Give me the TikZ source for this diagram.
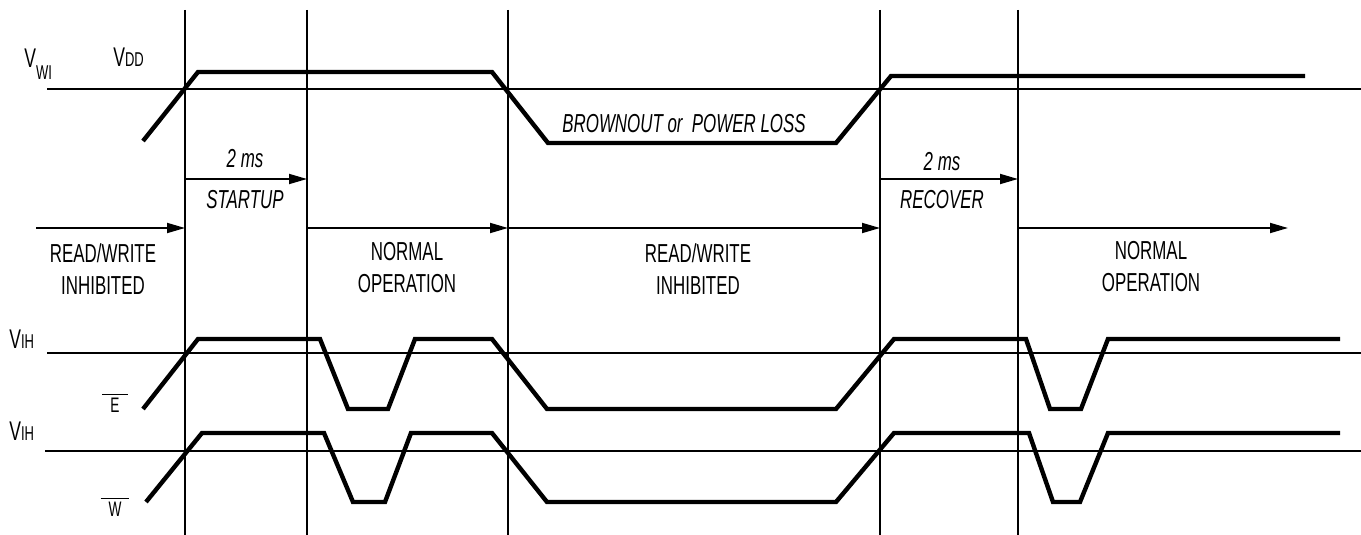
\documentclass[tikz,border=0pt]{standalone}
\usepackage{fontspec}
\setmainfont{Liberation Sans}[FakeStretch=0.65]
\usetikzlibrary{arrows.meta}

\begin{document}
\begin{tikzpicture}[x=0.5pt, y=-0.5pt,
    grid/.style = {line width=0.7pt},
    sig/.style = {line width=2.2pt, line join=miter},
    span/.style = {line width=0.9pt, -{Triangle[length=9pt,width=5pt]}},
    lbl/.style = {font=\fontsize{13}{16}\selectfont, align=center, anchor=north, inner sep=0pt},
    tag/.style = {font=\fontsize{13}{16}\selectfont\itshape, anchor=base, inner sep=0pt},
    lvl/.style = {font=\fontsize{13.5}{16}\selectfont, anchor=base west, inner sep=0pt}]
  \useasboundingbox (0,0) rectangle (1361,535);
  \foreach \n/\x in {a/185, b/307, c/508, d/880, e/1018} {
    \coordinate (top\n) at (\x,10);
    \coordinate (bot\n) at (\x,535);
    \coordinate (row\n) at (\x,228);
    \coordinate (sub\n) at (\x,179);
    \draw[grid] (top\n) -- (bot\n);
  }
  \coordinate (start) at (36,228);
  \coordinate (finish) at (1288,228);
  % thresholds
  \draw[grid] (47,89) -- (1361,89);
  \draw[grid] (47,353) -- (1361,353);
  \draw[grid] (45,451) -- (1361,451);
  % supply
  \draw[sig] (143,141) -- (198,72) -- (492,72) -- (548,143) -- (836,143) -- (891,76) -- (1305,76);
  % chip enable
  \draw[sig] (143,409) -- (198,339) -- (320,339) -- (348,409) -- (388,409) -- (415,339) -- (492,339)
    -- (547,409) -- (836,409) -- (894,339) -- (1026,339) -- (1050,409) -- (1081,409) -- (1108,339) -- (1340,339);
  % write enable
  \draw[sig] (146,502) -- (202,433) -- (324,433) -- (353,502) -- (385,502) -- (411,433) -- (492,433)
    -- (547,502) -- (836,502) -- (894,433) -- (1029,433) -- (1053,502) -- (1080,502) -- (1108,433) -- (1340,433);
  \node[lvl] (vwi) at (24,68) {V\raisebox{-6pt}{\fontsize{10}{10}\selectfont WI}};
  \node[lvl] (vdd) at (113,67) {V{\fontsize{10}{10}\selectfont DD}};
  \node[lvl] (vih1) at (9,348) {V{\fontsize{10}{10}\selectfont IH}};
  \node[lvl] (vih2) at (9,440) {V{\fontsize{10}{10}\selectfont IH}};
  \node[tag, font=\fontsize{10.5}{10}\selectfont] (ebar) at (115,412) {$\overline{\mbox{\kern4pt E\kern4pt}}$};
  \node[tag, font=\fontsize{10.5}{10}\selectfont] (wbar) at (115,516) {$\overline{\mbox{\kern4pt W\kern4pt}}$};
  \draw[span] (start) -- (rowa);
  \draw[span] (rowb) -- (rowc);
  \draw[span] (rowc) -- (rowd);
  \draw[span] (rowe) -- (finish);
  \draw[span] (suba) -- (subb);
  \draw[span] (subd) -- (sube);
  \node[tag] (upms) at (245,168) {2 ms};
  \node[tag] (startup) at (245,208) {STARTUP};
  \node[tag] (loss) at (684,133) {BROWNOUT or\ \ POWER LOSS};
  \node[tag] (recms) at (942,170) {2 ms};
  \node[tag] (recover) at (942,208) {RECOVER};
  \node[lbl] (inhib1) at (103,243) {READ/WRITE\\INHIBITED};
  \node[lbl] (normal1) at (407,242) {NORMAL\\OPERATION};
  \node[lbl] (inhib2) at (698,243) {READ/WRITE\\INHIBITED};
  \node[lbl] (normal2) at (1151,241) {NORMAL\\OPERATION};
\end{tikzpicture}
\end{document}
